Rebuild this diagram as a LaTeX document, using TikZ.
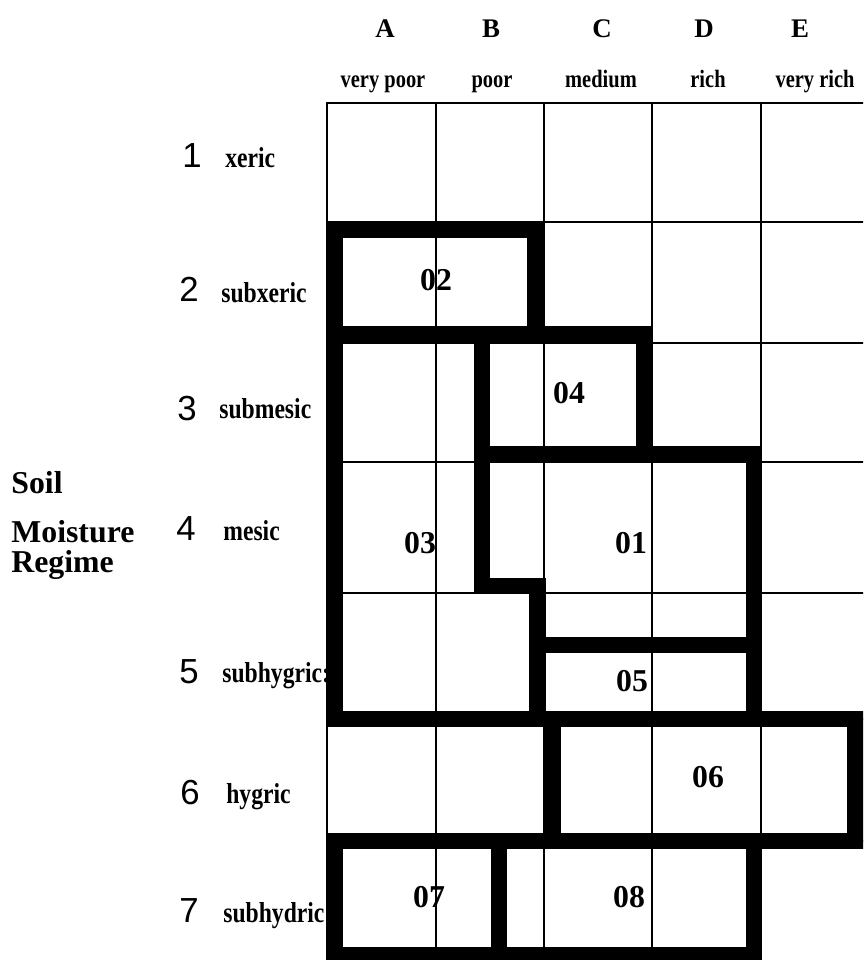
\documentclass[tikz,border=0pt]{standalone}
\usepackage{fontspec}
\setmainfont{Liberation Serif}
\newfontfamily\narrowserif{Liberation Serif}[FakeStretch=0.82]
\newfontfamily\digitfont{Liberation Sans}

\tikzset{
  gridline/.style={line width=1.1pt},
  zoneline/.style={line width=9.6pt,line join=miter},
  colhead/.style={anchor=base,inner sep=0pt,font=\bfseries\fontsize{15.3pt}{17pt}\selectfont},
  colsub/.style={anchor=base,inner sep=0pt,font=\narrowserif\bfseries\fontsize{14.2pt}{16pt}\selectfont},
  rowno/.style={anchor=base,inner sep=0pt,font=\digitfont\fontsize{19.8pt}{22pt}\selectfont},
  rowname/.style={anchor=base west,inner sep=0pt,font=\narrowserif\bfseries\fontsize{16.4pt}{18pt}\selectfont},
  zonelabel/.style={anchor=base,inner sep=0pt,font=\bfseries\fontsize{18.1pt}{20pt}\selectfont},
  axislabel/.style={anchor=base west,inner sep=0pt,font=\bfseries\fontsize{18.1pt}{20pt}\selectfont},
}

\begin{document}
\begin{tikzpicture}[x=0.02cm,y=-0.02cm]
\useasboundingbox (0,0) rectangle (863,960);
\clip (0,0) rectangle (863,960);
% column heads
\node[colhead] (hA) at (385,37) {A};
\node[colhead] (hB) at (491,37) {B};
\node[colhead] (hC) at (602,37) {C};
\node[colhead] (hD) at (704,37) {D};
\node[colhead] (hE) at (800,37) {E};
\node[colsub] (sA) at (383,87) {very poor};
\node[colsub] (sB) at (492,87) {poor};
\node[colsub] (sC) at (601,87) {medium};
\node[colsub] (sD) at (708,87) {rich};
\node[colsub] (sE) at (815,87) {very rich};
% row heads
\node[rowno] (r1) at (192,167) {1};
\node[rowno] (r2) at (189,301) {2};
\node[rowno] (r3) at (187,420) {3};
\node[rowno] (r4) at (186,540) {4};
\node[rowno] (r5) at (189,683) {5};
\node[rowno] (r6) at (190,804) {6};
\node[rowno] (r7) at (189,922) {7};
\node[rowname] (n1) at (225,167) {xeric};
\node[rowname] (n2) at (221,302) {subxeric};
\node[rowname] (n3) at (219,418) {submesic};
\node[rowname] (n4) at (223,540) {mesic};
\node[rowname] (n5) at (222,682) {subhygric:};
\node[rowname] (n6) at (226,803) {hygric};
\node[rowname] (n7) at (223,922) {subhydric:};
\node[axislabel] (soil) at (11,493) {Soil};
\node[axislabel] (moist) at (11,542) {Moisture};
\node[axislabel] (regime) at (11,572) {Regime};
% grid
\draw[gridline] (327,103) rectangle (866,963);
\draw[gridline] (436,103)--(436,963);
\draw[gridline] (544,103)--(544,963);
\draw[gridline] (652,103)--(652,963);
\draw[gridline] (761,103)--(761,963);
\draw[gridline] (327,222)--(866,222);
\draw[gridline] (327,343)--(866,343);
\draw[gridline] (327,462)--(866,462);
\draw[gridline] (327,593)--(866,593);
\draw[gridline] (327,719)--(866,719);
\draw[gridline] (327,841)--(866,841);
% zones
\draw[zoneline] (335,230) rectangle (535.5,334.5);
\draw[zoneline] (335,334.5)--(482,334.5)--(482,586)--(537.5,586)--(537.5,719)--(335,719)--cycle;
\draw[zoneline] (482,334.5)--(644.5,334.5)--(644.5,454)--(482,454)--cycle;
\draw[zoneline] (482,454)--(754,454)--(754,645)--(537.5,645)--(537.5,586)--(482,586)--cycle;
\draw[zoneline] (537.5,645)--(754,645)--(754,719)--(537.5,719)--cycle;
\draw[zoneline] (553,719)--(855.5,719)--(855.5,841)--(553,841)--cycle;
\draw[zoneline] (335,841)--(499,841)--(499,955)--(335,955)--cycle;
\draw[zoneline] (499,841)--(754,841)--(754,955)--(499,955)--cycle;
% zone numbers
\node[zonelabel] (z01) at (631,553) {01};
\node[zonelabel] (z02) at (436,290) {02};
\node[zonelabel] (z03) at (420,553) {03};
\node[zonelabel] (z04) at (569,403) {04};
\node[zonelabel] (z05) at (632,691) {05};
\node[zonelabel] (z06) at (708,787) {06};
\node[zonelabel] (z07) at (429,907) {07};
\node[zonelabel] (z08) at (629,907) {08};
\end{tikzpicture}
\end{document}
